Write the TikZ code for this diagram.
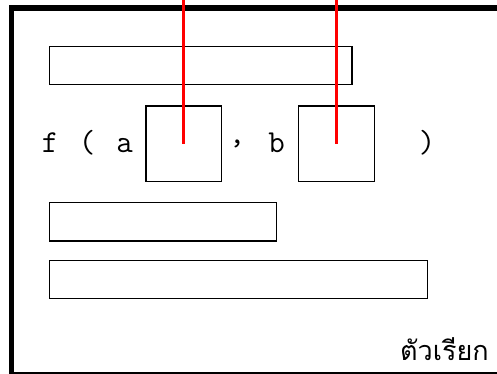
\documentclass[tikz,border=0pt]{standalone}
\usepackage{fontspec}
\newfontfamily\thaifont[Script=Thai]{Loma}
\begin{document}
\begin{tikzpicture}[x=1pt,y=-1pt,
  frame/.style={draw=black,line width=5.5pt},
  box/.style={draw=black,line width=1.2pt,anchor=north west,inner sep=0pt,outer sep=0pt},
  code/.style={font=\ttfamily\fontsize{32}{34}\selectfont,anchor=base,inner sep=0pt},
  wire/.style={draw=red,line width=3.2pt}]
\useasboundingbox (0,0) rectangle (497,374);
\draw[frame] (11.5,8) rectangle (520,374.5);
\node[box,minimum width=302.7pt,minimum height=37.6pt] (r1) at (49.3,46.7) {};
\node[box,minimum width=75.7pt,minimum height=75.7pt] (sa) at (146,106) {};
\node[box,minimum width=76pt,minimum height=75.7pt] (sb) at (298.3,106) {};
\node[box,minimum width=227.4pt,minimum height=38.3pt] (r2) at (49.3,202.7) {};
\node[box,minimum width=378.4pt,minimum height=38pt] (r3) at (49.3,260.3) {};
\node[code] (tf) at (50,153) {f};
\node[code] (tl) at (87,153) {(};
\node[code] (ta) at (124.5,153) {a};
\node[code] (tc) at (237,143) {,};
\node[code] (tb) at (276.5,153) {b};
\node[code] (tr) at (427,153) {)};
\node[font=\thaifont\fontsize{27}{30}\selectfont,anchor=base east,inner sep=0pt] (call) at (489,360) {ตัวเรียก};
\coordinate (ta0) at (sa.center |- 0,-5);
\coordinate (tb0) at (sb.center |- 0,-5);
\draw[wire] (sa.center) -- (ta0);
\draw[wire] (sb.center) -- (tb0);
\end{tikzpicture}
\end{document}
